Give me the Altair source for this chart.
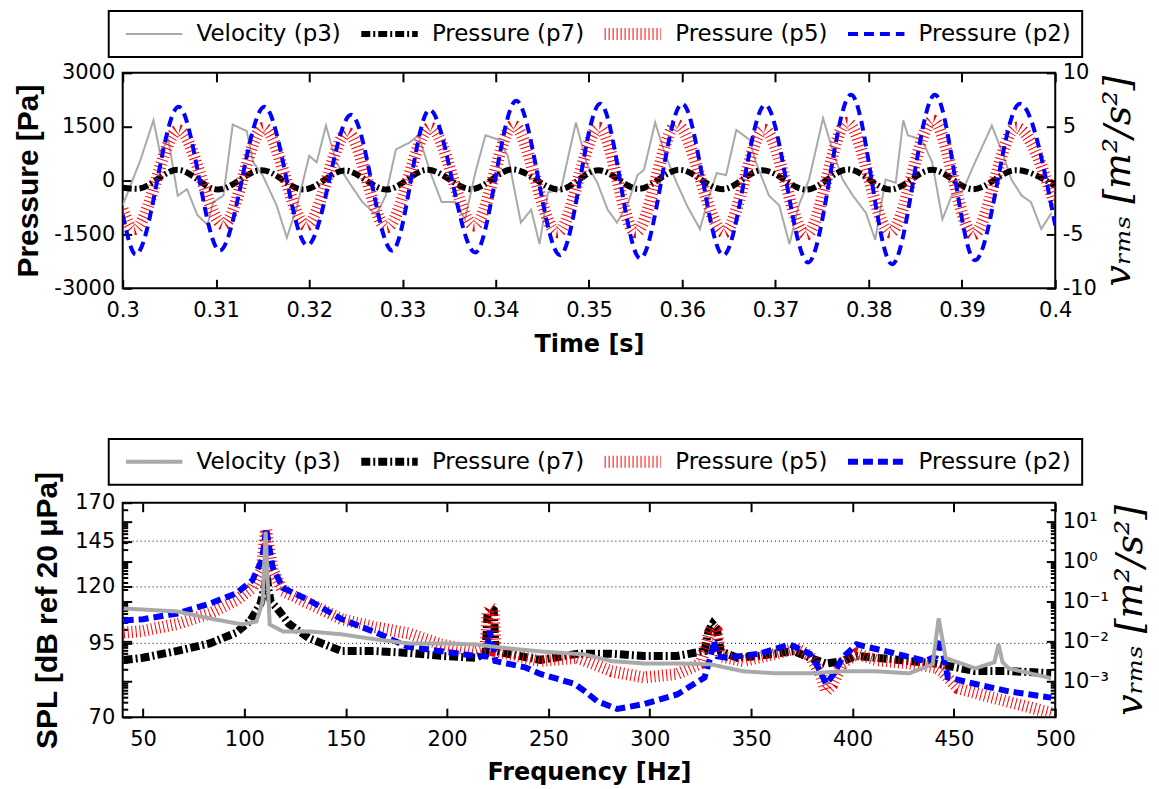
import altair as alt
import pandas as pd

SERIES = ["Velocity (p3)", "Pressure (p7)", "Pressure (p5)", "Pressure (p2)"]
COLORS = ["#a9a9a9", "#000000", "#ff0000", "#0000ff"]

# ---------------- top panel: time signals ----------------
TIME_TICKS = [0.30, 0.31, 0.32, 0.33, 0.34, 0.35, 0.36, 0.37, 0.38, 0.39, 0.40]
PRESSURE_TICKS = [-3000, -1500, 0, 1500, 3000]
VEL_TICKS = [-10, -5, 0, 5, 10]

# extrema of the pressure signals (s, Pa)
t_p2 = [0.3000, 0.3014, 0.3060, 0.3104, 0.3152, 0.3198, 0.3245, 0.3289, 0.3329, 0.3378,
        0.3422, 0.3469, 0.3512, 0.3555, 0.3600, 0.3644, 0.3689, 0.3735, 0.3781, 0.3825,
        0.3871, 0.3914, 0.3962, 0.4000]
p_p2 = [-950, -2055, 2055, -1950, 2055, -1800, 1830, -1950, 1970, -2000,
        2220, -2080, 2140, -2170, 2140, -2080, 2110, -2280, 2390, -2330,
        2390, -2220, 2140, -1250]

t_p5 = [0.3000, 0.3012, 0.3060, 0.3108, 0.3151, 0.3197, 0.3241, 0.3283, 0.3330, 0.3377,
        0.3419, 0.3466, 0.3511, 0.3550, 0.3594, 0.3645, 0.3688, 0.3733, 0.3777, 0.3823,
        0.3869, 0.3912, 0.3958, 0.4000]
p_p5 = [-800, -1360, 1400, -1220, 1470, -1250, 1330, -1300, 1470, -1250,
        1530, -1440, 1470, -1440, 1550, -1440, 1420, -1500, 1610, -1440,
        1670, -1500, 1470, -700]

t_p7 = [0.3000, 0.3015, 0.3059, 0.3102, 0.3149, 0.3194, 0.3238, 0.3283, 0.3327, 0.3374,
        0.3418, 0.3468, 0.3510, 0.3553, 0.3597, 0.3643, 0.3686, 0.3733, 0.3778, 0.3823,
        0.3868, 0.3912, 0.3958, 0.4000]
p_p7 = [-200, -230, 300, -250, 290, -250, 280, -250, 300, -240,
        310, -250, 290, -230, 300, -240, 290, -250, 310, -250,
        300, -240, 290, -150]

# velocity signal (s, m2/s2)
t_p3 = [0.3000, 0.3019, 0.3033, 0.3040, 0.3049, 0.3059, 0.3069, 0.3080, 0.3091, 0.3097,
        0.3108, 0.3118, 0.3133, 0.3140, 0.3150, 0.3165, 0.3176, 0.3186, 0.3200, 0.3208,
        0.3218, 0.3229, 0.3243, 0.3257, 0.3272, 0.3282, 0.3293, 0.3307, 0.3317, 0.3331,
        0.3342, 0.3357, 0.3367, 0.3378, 0.3389, 0.3403, 0.3413, 0.3427, 0.3438, 0.3447,
        0.3456, 0.3470, 0.3486, 0.3498, 0.3509, 0.3520, 0.3530, 0.3541, 0.3552, 0.3559,
        0.3571, 0.3581, 0.3594, 0.3605, 0.3619, 0.3629, 0.3637, 0.3647, 0.3658, 0.3672,
        0.3679, 0.3693, 0.3704, 0.3715, 0.3725, 0.3736, 0.3751, 0.3761, 0.3772, 0.3783,
        0.3797, 0.3807, 0.3818, 0.3829, 0.3837, 0.3842, 0.3857, 0.3868, 0.3879, 0.3889,
        0.3900, 0.3914, 0.3932, 0.3942, 0.3953, 0.3964, 0.3974, 0.3985, 0.3996]
v_p3 = [-2.3, 1.9, 5.6, 2.6, 3.8, -1.4, -0.8, -3.2, -4.1, -2.0,
        -1.4, 5.2, 4.6, 1.7, 0.5, -2.3, -5.3, -2.7, 2.3, 1.7,
        5.1, 1.7, -0.2, -2.0, -3.2, -1.4, 2.9, 3.5, 4.2, 0.5,
        -2.0, -2.0, -3.6, 0.7, 4.2, 3.8, 2.3, -3.9, -2.7, -5.9,
        -1.1, -0.8, 5.4, 1.5, -0.2, -2.7, -3.9, -2.3, 0.5, 1.0,
        5.4, 2.6, -0.2, -2.3, -4.5, -1.4, 0.7, 0.5, 4.7, 3.8,
        1.7, -1.4, -2.3, -5.9, -2.3, 0.1, 5.8, 2.9, 0.1, -1.4,
        -3.0, -5.5, 0.1, -0.2, 5.6, 4.2, 3.8, 1.7, -3.6, -1.4,
        -1.1, 1.7, 5.1, 2.9, 0.1, -1.4, -2.0, -4.5, -3.0]

# ---------------- bottom panel: spectra ----------------
FREQ_TICKS = [50, 100, 150, 200, 250, 300, 350, 400, 450, 500]
SPL_TICKS = [70, 95, 120, 145, 170]
SPL_GRID = [95, 120, 145]
VRMS_TICKS = [0.001, 0.01, 0.1, 1, 10]
VRMS_MINOR = [0.0002, 0.0003, 0.0004, 0.0005, 0.0006, 0.0007, 0.0008, 0.0009,
              0.002, 0.003, 0.004, 0.005, 0.006, 0.007, 0.008, 0.009,
              0.02, 0.03, 0.04, 0.05, 0.06, 0.07, 0.08, 0.09,
              0.2, 0.3, 0.4, 0.5, 0.6, 0.7, 0.8, 0.9,
              2, 3, 4, 5, 6, 7, 8, 9, 20]

f_p7 = [40.5, 50, 67, 83, 96, 103, 108, 110, 111, 112, 113, 116, 122, 132, 148, 165, 181,
        197, 214, 219, 220, 221.5, 223, 224, 230, 246, 264.5, 281, 297, 313.5, 327, 329,
        331, 333, 335, 343, 354, 371, 379, 387, 395, 402, 411.6, 428, 441, 460.6, 477, 498]
spl_p7 = [88.7, 89.5, 92.1, 95, 99.3, 104.4, 112, 120, 126, 118, 113, 110, 103, 97, 92, 92,
          91.3, 90.2, 89.5, 91, 108, 110, 109, 92, 91, 88.7, 91, 91, 90.2, 90.2, 92, 100,
          103, 101, 92, 89.5, 90.2, 92, 89.5, 87.4, 88.3, 90.2, 89.5, 88.3, 87.4, 84.7,
          84.7, 84]

f_p5 = [40.5, 50, 67, 83, 96, 104, 108.6, 110, 110.8, 111.5, 114, 119, 132, 148, 165, 181,
        197, 214, 219, 220, 221.5, 223, 224, 230, 246, 264.5, 281, 297, 313.5, 325, 329,
        331, 333, 335, 338, 346, 362.5, 372, 379, 384, 387, 390, 395, 402, 411.6, 428,
        441, 444, 452, 469, 485, 498]
spl_p5 = [99.3, 100, 103, 107.5, 113.5, 119.5, 128.6, 145, 152, 145, 128.6, 118, 112, 105,
          101.5, 99, 94.6, 92, 93, 108, 110, 109, 92, 91, 88.3, 89.5, 84.7, 82.5, 83.7,
          87.4, 98, 101.5, 100, 90, 89.5, 88.3, 91, 93.2, 90.2, 84, 77.9, 80, 87.4, 91,
          88.7, 87.4, 86, 84.7, 78.9, 75.9, 73.3, 71.2]

f_p2 = [40.5, 50, 67, 83, 96, 104, 108.6, 110, 110.8, 111.5, 114, 119, 132, 148, 165, 181,
        197, 214, 219, 221, 222.5, 223.8, 238.5, 246, 263, 268, 274, 284, 297, 313.5, 327,
        330, 331.7, 333.5, 338, 354, 369, 379, 383, 387, 391, 395, 402, 420, 436, 441,
        443.4, 445, 447, 460.6, 477, 498]
spl_p2 = [104.4, 105, 107.5, 112, 116.8, 123.4, 134, 145, 153, 147, 130, 119.5, 113.5, 105,
          99.3, 93.6, 92, 90.2, 90, 100, 95, 88.3, 86, 83.7, 80.3, 77.9, 74.8, 72.4, 73.9,
          76.9, 82.5, 90, 96, 90, 89.5, 91, 94.6, 91, 86, 80.3, 84, 89.5, 94.6, 91.3, 88.3,
          90, 97, 90, 82.5, 80.3, 77.9, 75.9]

f_p3 = [40.5, 67, 83, 99, 106, 109, 110.5, 112, 112.5, 119, 132, 148, 165, 181, 197, 214,
        230, 246, 268, 281, 297, 313.5, 330, 346, 362.5, 379, 395, 411.6, 428, 439.5,
        442.5, 446, 460.6, 470, 472, 474, 477, 498]
vrms_p3 = [0.0668, 0.0562, 0.0376, 0.0266, 0.0316, 0.1, 5.6, 0.1, 0.0266, 0.0178, 0.0178,
           0.0150, 0.0112, 0.0089, 0.0089, 0.0084, 0.0067, 0.0056, 0.0047, 0.0032, 0.0028,
           0.0028, 0.00266, 0.00178, 0.00158, 0.00158, 0.00178, 0.00178, 0.00158, 0.00266,
           0.0376, 0.0038, 0.00211, 0.0030, 0.0084, 0.0030, 0.00211, 0.00119]

PLOT_W = 935
RIGHT_TITLE = "vᵣₘₛ  [m²/s²]"


def frame(xs, ys, name, xname, yname):
    return pd.DataFrame({xname: xs, yname: ys, "series": name})


def style_encodings(widths, dashes, legend_y):
    leg = alt.Legend(orient="none", legendX=-14, legendY=legend_y, direction="horizontal",
                     columns=4, title=None, symbolType="stroke", symbolSize=3200,
                     clipHeight=24, labelFont="DejaVu Sans", labelFontSize=23,
                     labelColor="black", labelOffset=8, columnPadding=14, padding=11,
                     strokeColor="black", symbolOpacity=1)
    return dict(
        color=alt.Color("series:N", scale=alt.Scale(domain=SERIES, range=COLORS), legend=leg),
        strokeDash=alt.StrokeDash("series:N", scale=alt.Scale(domain=SERIES, range=dashes), legend=leg),
        strokeWidth=alt.StrokeWidth("series:N", scale=alt.Scale(type="ordinal", domain=SERIES, range=widths), legend=leg),
    )


def line(df, x, y, styles, interp):
    return alt.Chart(df).mark_line(interpolate=interp, clip=True).encode(x=x, y=y, **styles)


def x_axis_bottom(values, title, fmt=None):
    kw = dict(orient="bottom", values=values, title=title, offset=-9, tickSize=9,
              labelPadding=11, titlePadding=12, labelFlush=False)
    if fmt:
        kw["format"] = fmt
    return alt.Axis(**kw)


def x_axis_top(values):
    return alt.Axis(orient="top", values=values, labels=False, title=None, offset=-9, tickSize=9)


def right_axis(values, **kw):
    return alt.Axis(orient="right", values=values, title=RIGHT_TITLE, offset=-9, tickSize=9,
                    labelPadding=7, titlePadding=3, titleFont="DejaVu Serif",
                    titleFontStyle="italic", titleFontWeight="normal", titleFontSize=38,
                    titleAngle=270, titleBaseline="top", labelFlush=False, **kw)


def tick_only_layer(values, scale, orient, size):
    """invisible marks that only carry an extra (label-free) axis of a shared scale"""
    return alt.Chart(pd.DataFrame({"val": values})).mark_point(opacity=0, size=1).encode(
        y=alt.Y("val:Q", scale=scale, axis=alt.Axis(
            orient=orient, values=values, labels=False, title=None,
            offset=-size, tickSize=size)))


# ---------- top panel ----------
top_styles = style_encodings([2, 6, 12, 4], [[1, 0], [9, 3, 2, 3], [1, 3], [10, 6]], -62)
t_scale = alt.Scale(domain=[0.3, 0.4], nice=False, zero=False)
x_time_bottom = alt.X("t:Q", scale=t_scale, axis=x_axis_bottom(TIME_TICKS, "Time [s]", ".2~f"))
x_time_top = alt.X("t:Q", scale=t_scale, axis=x_axis_top(TIME_TICKS))
y_press = alt.Y("val:Q", scale=alt.Scale(domain=[-3000, 3000], nice=False), axis=alt.Axis(
    orient="left", values=PRESSURE_TICKS, labelExpr="toString(datum.value)",
    title="Pressure [Pa]", offset=-9, tickSize=9, labelPadding=8, titlePadding=10,
    titleFont="Liberation Sans", titleFontSize=30, labelFlush=False))
y_vel = alt.Y("val:Q", scale=alt.Scale(domain=[-10, 10], nice=False),
              axis=right_axis(VEL_TICKS, labelExpr="toString(datum.value)"))

top_gray = line(frame(t_p3, v_p3, SERIES[0], "t", "val"), x_time_top, y_vel, top_styles, "linear")
top_press = alt.layer(
    line(frame(t_p7, p_p7, SERIES[1], "t", "val"), x_time_bottom, y_press, top_styles, "monotone"),
    line(frame(t_p5, p_p5, SERIES[2], "t", "val"), x_time_bottom, y_press, top_styles, "monotone"),
    line(frame(t_p2, p_p2, SERIES[3], "t", "val"), x_time_bottom, y_press, top_styles, "monotone"),
)
top = (alt.layer(top_gray, top_press)
       .resolve_scale(y="independent")
       .resolve_axis(x="independent")
       .properties(width=PLOT_W, height=216))

# ---------- bottom panel ----------
bot_styles = style_encodings([4, 8, 12, 6], [[1, 0], [9, 3, 2, 3], [1, 3], [10, 5]], -64)
f_scale = alt.Scale(domain=[40, 500], nice=False, zero=False)
x_freq_bottom = alt.X("f:Q", scale=f_scale, axis=x_axis_bottom(FREQ_TICKS, "Frequency [Hz]"))
x_freq_top = alt.X("f:Q", scale=f_scale, axis=x_axis_top(FREQ_TICKS))
y_spl = alt.Y("val:Q", scale=alt.Scale(type="log", domain=[70, 170], nice=False), axis=alt.Axis(
    orient="left", values=SPL_TICKS, labelExpr="toString(datum.value)",
    title="SPL [dB ref 20 μPa]", offset=-9, tickSize=9, labelPadding=8, titlePadding=12,
    titleFont="Liberation Sans", titleFontSize=30, labelFlush=False))
vrms_scale = alt.Scale(type="log", domain=[0.000126, 29.9], nice=False)
y_vrms = alt.Y("val:Q", scale=vrms_scale,
               axis=right_axis(VRMS_TICKS, labelExpr=(
                   "datum.value > 5 ? '10¹' : datum.value > 0.5 ? '10⁰' : "
                   "datum.value > 0.05 ? '10⁻¹' : datum.value > 0.005 ? '10⁻²' : '10⁻³'")))

grid = alt.Chart(pd.DataFrame({"val": SPL_GRID})).mark_rule(
    color="black", strokeDash=[1, 3], strokeWidth=1).encode(y=y_spl)
bot_press = alt.layer(
    grid,
    line(frame(f_p7, spl_p7, SERIES[1], "f", "val"), x_freq_bottom, y_spl, bot_styles, "linear"),
    line(frame(f_p5, spl_p5, SERIES[2], "f", "val"), x_freq_bottom, y_spl, bot_styles, "linear"),
    line(frame(f_p2, spl_p2, SERIES[3], "f", "val"), x_freq_bottom, y_spl, bot_styles, "linear"),
)
bot_gray = alt.layer(
    line(frame(f_p3, vrms_p3, SERIES[0], "f", "val"), x_freq_top, y_vrms, bot_styles, "linear"),
    tick_only_layer(VRMS_MINOR, vrms_scale, "right", 5),
    tick_only_layer(VRMS_TICKS, vrms_scale, "left", 9),
    tick_only_layer(VRMS_MINOR, vrms_scale, "left", 5),
).resolve_axis(y="independent")
bottom = (alt.layer(bot_press, bot_gray)
          .resolve_scale(y="independent")
          .resolve_axis(x="independent")
          .properties(width=PLOT_W, height=215))

chart = (alt.vconcat(top, bottom, spacing=80)
         .resolve_scale(x="independent", y="independent", color="independent",
                        strokeDash="independent", strokeWidth="independent")
         .resolve_legend(color="independent", strokeDash="independent", strokeWidth="independent")
         .properties(padding={"left": 4, "top": 0, "right": 0, "bottom": 0})
         .configure_view(stroke="black", strokeWidth=2)
         .configure_axis(domain=False, grid=False, tickColor="black", tickWidth=2,
                         labelFont="DejaVu Sans", labelFontSize=21, labelColor="black",
                         titleFont="DejaVu Sans", titleFontSize=24, titleFontWeight="bold",
                         titleColor="black", labelFlush=False)
         .configure_legend(strokeWidth=2))

chart.save("out.html", embed_options={"renderer": "svg", "actions": False})
